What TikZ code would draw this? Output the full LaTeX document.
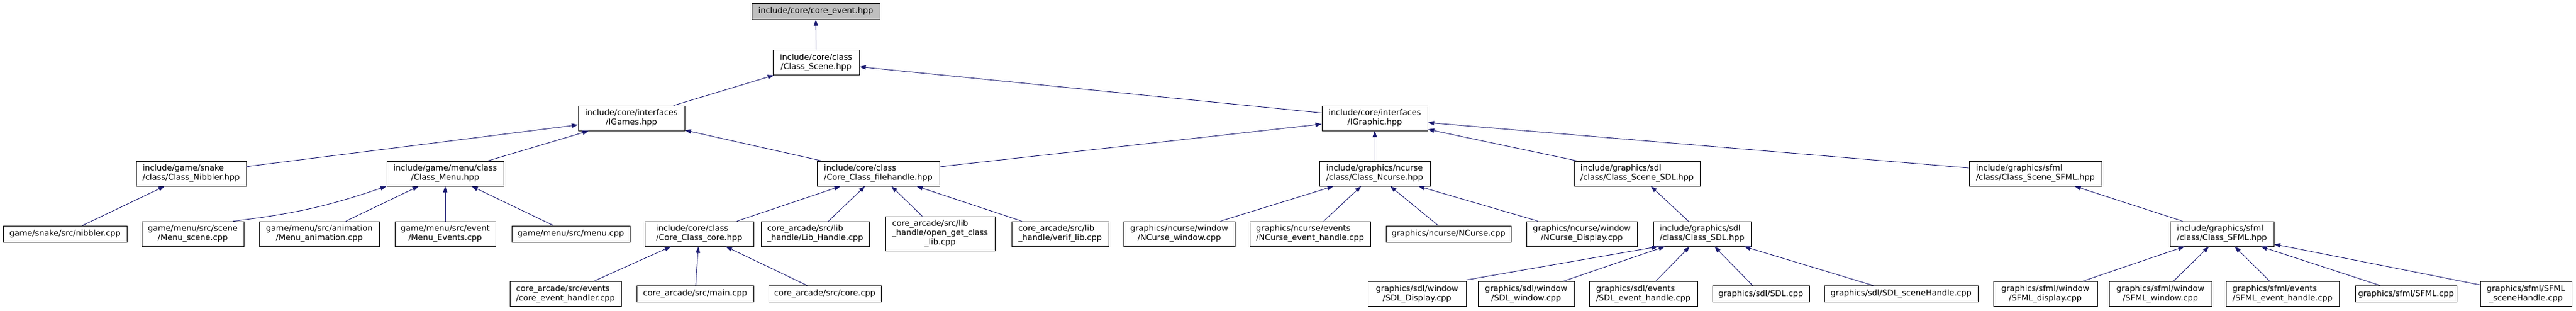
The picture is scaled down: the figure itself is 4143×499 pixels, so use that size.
\documentclass[tikz,border=0pt]{standalone}
\usepackage{fontspec}
\setmainfont{DejaVu Sans}
\usetikzlibrary{arrows.meta}
\definecolor{edgeblue}{HTML}{191970}
\definecolor{rootgray}{HTML}{BFBFBF}
\newcommand\twol[2]{\begin{tabular}{@{}l@{}}#1\\\multicolumn{1}{@{}c@{}}{#2}\end{tabular}}
\newcommand\threel[3]{\begin{tabular}{@{}l@{}}#1\\#2\\\multicolumn{1}{@{}c@{}}{#3}\end{tabular}}
\begin{document}
\begin{tikzpicture}[x=1pt,y=-1pt,
  filebox/.style={draw=black, line width=0.9pt, fill=white, inner sep=0pt, font=\fontsize{13}{15}\selectfont},
  one/.style={filebox, minimum height=26pt},
  two/.style={filebox, minimum height=40pt},
  three/.style={filebox, minimum height=55pt},
  rootbox/.style={one, fill=rootgray},
  dep/.style={draw=edgeblue, line width=0.9pt, -{Triangle[length=10pt,width=7pt]}}]
\useasboundingbox (0,0) rectangle (4143,499);
% level 0
\node[rootbox, minimum width=206pt] (root) at (1312,18) {include/core/core\_event.hpp};
% level 1
\node[two, minimum width=139pt] (scene) at (1312.5,100.5) {\twol{include/core/class}{/Class\_Scene.hpp}};
% level 2
\node[two, minimum width=171pt] (igames) at (1015.5,190) {\twol{include/core/interfaces}{/IGames.hpp}};
\node[two, minimum width=170pt] (igraphic) at (2211,190) {\twol{include/core/interfaces}{/IGraphic.hpp}};
% level 3
\node[two, minimum width=177pt] (nibbler) at (307.5,279) {\twol{include/game/snake}{/class/Class\_Nibbler.hpp}};
\node[two, minimum width=188pt] (menu) at (716,279) {\twol{include/game/menu/class}{/Class\_Menu.hpp}};
\node[two, minimum width=197pt] (filehandle) at (1412.5,279) {\twol{include/core/class}{/Core\_Class\_filehandle.hpp}};
\node[two, minimum width=178pt] (ncurse) at (2211,279) {\twol{include/graphics/ncurse}{/class/Class\_Ncurse.hpp}};
\node[two, minimum width=202pt] (scenesdl) at (2633,279) {\twol{include/graphics/sdl}{/class/Class\_Scene\_SDL.hpp}};
\node[two, minimum width=213pt] (scenesfml) at (3273.5,279) {\twol{include/graphics/sfml}{/class/Class\_Scene\_SFML.hpp}};
% level 4
\node[one, minimum width=199pt] (nibblercpp) at (104.5,376) {game/snake/src/nibbler.cpp};
\node[two, minimum width=164pt] (menuscene) at (310,376) {\twol{game/menu/src/scene}{/Menu\_scene.cpp}};
\node[two, minimum width=193pt] (menuanim) at (513.5,376) {\twol{game/menu/src/animation}{/Menu\_animation.cpp}};
\node[two, minimum width=162pt] (menuevents) at (716,376) {\twol{game/menu/src/event}{/Menu\_Events.cpp}};
\node[one, minimum width=190pt] (menucpp) at (918,376) {game/menu/src/menu.cpp};
\node[two, minimum width=175pt] (coreclass) at (1124.5,376) {\twol{include/core/class}{/Core\_Class\_core.hpp}};
\node[two, minimum width=174pt] (libhandle) at (1311,376) {\twol{core\_arcade/src/lib}{\_handle/Lib\_Handle.cpp}};
\node[three, minimum width=176pt] (opengetclass) at (1512,375.5) {\threel{core\_arcade/src/lib}{\_handle/open\_get\_class}{\_lib.cpp}};
\node[two, minimum width=156pt] (veriflib) at (1705,376) {\twol{core\_arcade/src/lib}{\_handle/verif\_lib.cpp}};
\node[two, minimum width=179pt] (ncwindow) at (1896.5,376) {\twol{graphics/ncurse/window}{/NCurse\_window.cpp}};
\node[two, minimum width=194pt] (ncevent) at (2107,376) {\twol{graphics/ncurse/events}{/NCurse\_event\_handle.cpp}};
\node[one, minimum width=201pt] (nccpp) at (2329.5,376) {graphics/ncurse/NCurse.cpp};
\node[two, minimum width=178pt] (ncdisplay) at (2544,376) {\twol{graphics/ncurse/window}{/NCurse\_Display.cpp}};
\node[two, minimum width=157pt] (classsdl) at (2737.5,376) {\twol{include/graphics/sdl}{/class/Class\_SDL.hpp}};
\node[two, minimum width=167pt] (classsfml) at (3573.5,376) {\twol{include/graphics/sfml}{/class/Class\_SFML.hpp}};
% level 5
\node[two, minimum width=179pt] (coreeventh) at (909.5,472.5) {\twol{core\_arcade/src/events}{/core\_event\_handler.cpp}};
\node[one, minimum width=188pt] (maincpp) at (1118,472.5) {core\_arcade/src/main.cpp};
\node[one, minimum width=181pt] (corecpp) at (1326.5,472.5) {core\_arcade/src/core.cpp};
\node[two, minimum width=158pt] (sdldisplay) at (2279,472.5) {\twol{graphics/sdl/window}{/SDL\_Display.cpp}};
\node[two, minimum width=155pt] (sdlwindow) at (2454.5,472.5) {\twol{graphics/sdl/window}{/SDL\_window.cpp}};
\node[two, minimum width=174pt] (sdlevent) at (2643,472.5) {\twol{graphics/sdl/events}{/SDL\_event\_handle.cpp}};
\node[one, minimum width=156pt] (sdlcpp) at (2832,472.5) {graphics/sdl/SDL.cpp};
\node[one, minimum width=247pt] (sdlscene) at (3057.5,472.5) {graphics/sdl/SDL\_sceneHandle.cpp};
\node[two, minimum width=167pt] (sfmldisplay) at (3289.5,472.5) {\twol{graphics/sfml/window}{/SFML\_display.cpp}};
\node[two, minimum width=165pt] (sfmlwindow) at (3474.5,472.5) {\twol{graphics/sfml/window}{/SFML\_window.cpp}};
\node[two, minimum width=182pt] (sfmlevent) at (3671,472.5) {\twol{graphics/sfml/events}{/SFML\_event\_handle.cpp}};
\node[one, minimum width=163pt] (sfmlcpp) at (3869.5,472.5) {graphics/sfml/SFML.cpp};
\node[two, minimum width=147pt] (sfmlscene) at (4062.5,472.5) {\twol{graphics/sfml/SFML}{\_sceneHandle.cpp}};
% edges (child -> parent)
\draw[dep] (scene) -- (root);
\draw[dep] (igames) -- (scene);
\draw[dep] (igraphic) -- (scene);
\draw[dep] (nibbler) -- (igames);
\draw[dep] (menu) -- (igames);
\draw[dep] (filehandle) -- (igames);
\draw[dep] (filehandle) -- (igraphic);
\draw[dep] (ncurse) -- (igraphic);
\draw[dep] (scenesdl) -- (igraphic);
\draw[dep] (scenesfml) -- (igraphic);
\draw[dep] (nibblercpp) -- (nibbler);
\draw[dep] ([xshift=65pt]menuscene.north) to[bend right=6] (menu.south west);
\draw[dep] (menuanim) -- (menu);
\draw[dep] (menuevents) -- (menu);
\draw[dep] (menucpp) -- (menu);
\draw[dep] (coreclass) -- (filehandle);
\draw[dep] (libhandle) -- (filehandle);
\draw[dep] (opengetclass) -- (filehandle);
\draw[dep] (veriflib) -- (filehandle);
\draw[dep] (coreeventh) -- (coreclass);
\draw[dep] (maincpp) -- (coreclass);
\draw[dep] (corecpp) -- (coreclass);
\draw[dep] (ncwindow) -- (ncurse);
\draw[dep] (ncevent) -- (ncurse);
\draw[dep] (nccpp) -- (ncurse);
\draw[dep] (ncdisplay) -- (ncurse);
\draw[dep] (classsdl) -- (scenesdl);
\draw[dep] ([yshift=2pt]sdldisplay.north east) -- ([xshift=8pt]classsdl.south west);
\draw[dep] (sdlwindow) -- (classsdl);
\draw[dep] (sdlevent) -- (classsdl);
\draw[dep] (sdlcpp) -- (classsdl);
\draw[dep] (sdlscene) -- (classsdl);
\draw[dep] (classsfml) -- (scenesfml);
\draw[dep] (sfmldisplay) -- (classsfml);
\draw[dep] (sfmlwindow) -- (classsfml);
\draw[dep] (sfmlevent) -- (classsfml);
\draw[dep] (sfmlcpp) -- (classsfml);
\draw[dep] (sfmlscene) -- (classsfml);
\end{tikzpicture}
\end{document}
